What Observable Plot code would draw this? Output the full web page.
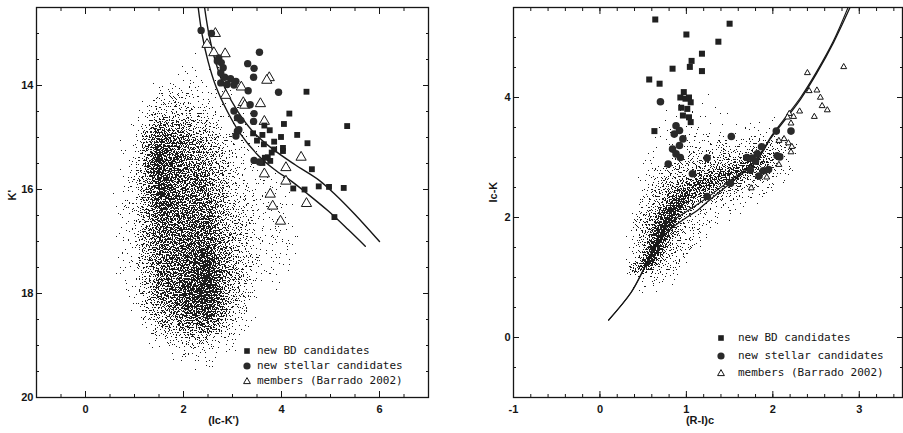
<!DOCTYPE html>
<html><head><meta charset="utf-8">
<script src="https://cdn.jsdelivr.net/npm/d3@7"></script>
<script src="https://cdn.jsdelivr.net/npm/@observablehq/plot@0.6"></script>
<style>
html,body{margin:0;padding:0;background:#fff}
body{width:903px;height:433px;overflow:hidden;position:relative;font-family:"Liberation Sans",Arial,sans-serif}
#left{position:absolute;left:0;top:0}
#right{position:absolute;left:450px;top:0}
.lg{position:absolute;font-family:"DejaVu Sans Mono",monospace;font-size:11px;color:#151515;white-space:nowrap;line-height:14px;height:14px}
.lg svg{position:absolute;left:0;top:2px}
</style></head><body>
<svg width="0" height="0" style="position:absolute">
  <defs>
    <filter id="stipple" x="0" y="0" width="1" height="1" color-interpolation-filters="sRGB">
      <feTurbulence type="fractalNoise" baseFrequency="0.7" numOctaves="2" seed="7" result="t"/>
      <feColorMatrix in="t" type="matrix" values="0 0 0 0 0  0 0 0 0 0  0 0 0 0 0  1 0 0 0 0" result="n"/>
      <feComponentTransfer in="SourceAlpha" result="a2"><feFuncA type="table" tableValues="0 0.226 0.270 0.298 0.321 0.339 0.355 0.369 0.382 0.394 0.406 0.416 0.427 0.436 0.446 0.455 0.465 0.474 0.482 0.491 0.5 0.509 0.518 0.526 0.535 0.545 0.554 0.564 0.573 0.584 0.594 0.606 0.618 0.631 0.645 0.661 0.679 0.702 0.730 0.774 1"/></feComponentTransfer>
      <feComposite in="a2" in2="n" operator="arithmetic" k1="0" k2="1" k3="-1" k4="0.49" result="d"/>
      <feComponentTransfer in="d" result="m"><feFuncA type="discrete" tableValues="0 1"/></feComponentTransfer>
      <feFlood flood-color="#1c1c1c" result="f"/>
      <feComposite in="f" in2="m" operator="in"/>
    </filter>
  </defs>
</svg>
<div id="left"></div><div id="right"></div>
<script>
// ---------- Left panel: K' vs (Ic-K') ----------
const leftBD = [[4.51,14.12],[5.34,14.78],[4.16,14.54],[4.05,14.74],[4.32,14.95],[3.99,14.99],[4.53,15.11],[4.03,15.20],[4.03,15.26],[4.62,15.61],[4.24,15.98],[4.47,16.00],[4.76,15.94],[4.97,15.95],[5.27,15.97],[5.08,16.53],[3.42,14.92],[3.61,14.95],[3.76,14.86],[3.65,14.77],[3.50,15.06],[3.64,15.13],[3.85,15.08],[3.80,15.29],[3.72,15.38],[3.85,15.23],[3.77,15.45],[3.66,15.39],[3.61,15.49]];
const leftStellar = [[2.36,12.94],[2.57,13.00],[3.55,13.36],[3.31,13.58],[3.44,13.67],[3.43,13.84],[3.32,14.10],[3.94,14.13],[3.36,14.37],[3.03,14.49],[3.10,14.62],[3.17,14.67],[3.44,14.54],[3.43,14.69],[3.10,14.88],[3.07,14.97],[3.13,14.85],[3.44,15.44],[3.55,15.47],[2.72,13.47],[2.77,13.56],[2.81,13.66],[2.76,13.76],[2.84,13.84],[2.96,13.87],[3.07,13.92],[2.76,13.95],[2.89,13.98],[3.03,13.99],[2.69,13.53]];
const leftMembers = [[2.65,13.00],[2.48,13.21],[2.62,13.37],[2.85,13.39],[3.75,13.85],[3.70,13.90],[3.18,14.03],[2.86,14.19],[3.22,14.33],[3.25,14.38],[3.57,14.35],[3.65,14.69],[4.40,15.38],[4.09,15.58],[3.65,15.70],[4.09,15.84],[3.77,16.09],[3.82,16.32],[4.51,16.27],[3.98,16.61]];
const leftIsoInner = [[2.30,12.50],[2.38,13.02],[2.50,13.53],[2.67,14.04],[2.89,14.49],[3.17,14.94],[3.51,15.33],[3.85,15.61],[4.20,15.84],[4.54,16.09],[4.95,16.41],[5.36,16.77],[5.71,17.09]];
const leftIsoOuter = [[2.43,12.50],[2.52,13.02],[2.65,13.53],[2.84,14.04],[3.10,14.49],[3.41,14.88],[3.79,15.20],[4.27,15.52],[4.75,15.81],[5.09,16.09],[5.50,16.48],[6.00,17.00]];
// field-star cloud: estimated relative density (dot coverage) on a coarse grid
const leftCloudCols = [0.0,0.5,1.0,1.5,2.0,2.5,3.0,3.5,4.0,4.5,5.0];
const leftCloudRows = [13.0,13.5,14.0,14.5,15.0,15.5,16.0,16.5,17.0,17.5,18.0,18.5,19.0,19.5,20.0];
const leftCloudDensity = [
  [0,0,0,0,0,0,0,0,0,0,0],
  [0,0,0,0,0.02,0.03,0.01,0,0,0,0],
  [0,0,0,0.04,0.07,0.07,0.03,0,0,0,0],
  [0,0,0.02,0.25,0.2,0.15,0.05,0.02,0,0,0],
  [0,0,0.07,0.7,0.5,0.3,0.1,0.03,0.02,0,0],
  [0,0,0.1,0.8,0.6,0.45,0.15,0.06,0.04,0,0],
  [0,0.01,0.14,0.72,0.6,0.55,0.2,0.08,0.05,0.02,0],
  [0,0.01,0.14,0.65,0.6,0.6,0.25,0.1,0.07,0.02,0],
  [0,0.01,0.12,0.6,0.6,0.68,0.3,0.1,0.07,0.02,0],
  [0,0.01,0.1,0.55,0.62,0.8,0.38,0.08,0.04,0.01,0],
  [0,0,0.05,0.5,0.68,0.85,0.32,0.05,0.02,0,0],
  [0,0,0.02,0.32,0.55,0.68,0.2,0.02,0,0,0],
  [0,0,0,0.05,0.15,0.15,0.05,0,0,0,0],
  [0,0,0,0,0.02,0.02,0,0,0,0,0],
  [0,0,0,0,0,0,0,0,0,0,0]
];
const leftXMajor = [0,2,4,6];
const leftYMajor = [14,16,18,20];

// ---------- Right panel: Ic-K vs (R-I)c ----------
const rightBD = [[0.64,5.30],[1.50,5.23],[1.00,5.05],[1.37,4.93],[1.18,4.73],[1.06,4.61],[1.04,4.51],[0.84,4.48],[1.18,4.44],[0.57,4.30],[0.69,4.23],[0.63,3.44],[0.97,4.09],[0.93,4.00],[1.03,4.00],[1.05,3.92],[0.94,3.83],[1.01,3.81],[0.96,3.70],[1.03,3.67],[1.05,3.59],[0.99,3.98]];
const rightStellar = [[0.70,3.93],[0.79,2.89],[1.52,3.35],[1.24,2.99],[1.24,2.35],[1.51,2.57],[2.04,3.44],[2.21,3.44],[1.87,3.18],[1.76,2.99],[1.80,2.94],[2.05,3.03],[2.08,3.01],[1.74,2.79],[1.89,2.78],[1.95,2.80],[1.84,2.69],[1.07,2.73],[1.70,3.00],[1.82,3.06],[0.88,3.53],[0.92,3.45],[0.86,3.39],[0.96,3.31],[0.92,3.20],[0.84,3.14],[0.88,3.06],[0.93,3.00]];
const rightMembers = [[2.82,4.51],[2.40,4.41],[2.42,4.11],[2.51,4.12],[2.55,4.00],[2.57,3.86],[2.63,3.79],[2.48,3.68],[2.31,3.77],[2.19,3.73],[2.24,3.68],[2.17,3.67],[2.21,3.57],[2.13,3.31],[2.07,3.28],[2.18,3.24],[2.22,3.18],[2.21,3.09],[2.07,2.88],[1.93,2.67],[1.75,2.49]];
const rightIsoA = [[0.10,0.29],[0.36,0.75],[0.50,1.12],[0.59,1.37],[0.71,1.65],[0.82,1.81],[0.98,1.98],[1.13,2.12],[1.24,2.26],[1.36,2.40],[1.51,2.57],[1.67,2.76],[1.78,2.89],[1.88,3.09],[1.97,3.31],[2.12,3.59],[2.32,3.97],[2.51,4.41],[2.70,4.91],[2.89,5.49]];
const rightIsoB = [[0.10,0.29],[0.36,0.75],[0.50,1.12],[0.59,1.40],[0.70,1.72],[0.82,1.92],[0.98,2.08],[1.13,2.22],[1.24,2.33],[1.36,2.46],[1.51,2.62],[1.67,2.79],[1.78,2.92],[1.88,3.11],[1.97,3.33],[2.12,3.62],[2.32,4.00],[2.51,4.44],[2.70,4.94],[2.87,5.50]];
// field-star cloud: estimated relative density (dot coverage) at sample points [x, y, density]
const rightCloud = [
  [0.57,1.25,0.9],[0.63,1.45,0.95],[0.70,1.68,0.95],[0.78,1.92,0.92],[0.87,2.15,0.88],[0.97,2.33,0.8],
  [1.10,2.48,0.7],[1.25,2.58,0.65],[1.40,2.66,0.62],[1.55,2.74,0.62],[1.70,2.84,0.6],[1.85,2.95,0.55],[2.00,3.05,0.3],
  [0.47,1.45,0.22],[0.53,1.75,0.3],[0.60,2.05,0.3],[0.70,2.35,0.28],[0.85,2.60,0.28],[1.00,2.78,0.28],[1.20,2.90,0.25],[1.40,2.98,0.25],[1.60,3.05,0.22],[1.80,3.20,0.18],[1.95,3.35,0.1],
  [0.62,1.05,0.15],[0.75,1.35,0.25],[0.85,1.65,0.25],[0.97,1.95,0.22],[1.10,2.15,0.2],[1.25,2.25,0.15],[1.45,2.35,0.15],[1.65,2.45,0.15],[1.85,2.60,0.15],[2.05,2.80,0.12],
  [0.80,3.10,0.08],[1.00,3.40,0.07],[1.25,3.35,0.07],[1.50,3.40,0.05],[1.00,3.90,0.03],[1.30,3.90,0.03],[1.70,3.60,0.03],
  [0.25,1.00,0],[0.40,0.55,0],[0.85,0.75,0],[1.25,1.55,0],[1.65,1.95,0],[2.05,2.25,0],[2.35,2.65,0],[2.35,3.30,0],[2.05,3.85,0],[1.60,4.35,0],[1.10,4.60,0],[0.65,4.10,0],[0.45,3.00,0],[0.30,2.00,0]
];
const rightXMajor = [-1,0,1,2,3];
const rightYMajor = [0,2,4];

const legendLabels = ["new BD candidates","new stellar candidates","members (Barrado 2002)"];

// ---------- helpers ----------
const INK = "#161616";
const gridToPoints = (cols, rows, m) => rows.flatMap((yy, i) => cols.map((xx, j) => [xx, yy, m[i][j]]));
const minor = (a, b, s) => d3.range(Math.round((b - a) / s) + 1).map(i => +(a + i * s).toFixed(3));
function frameTicks(xMaj, xMin, yMaj, yMin) {
  const blank = () => "";
  return [
    Plot.axisX(xMin, {anchor: "bottom", tickSize: -3, tickFormat: blank, label: null, stroke: INK}),
    Plot.axisX(xMin, {anchor: "top", tickSize: -3, tickFormat: blank, label: null, stroke: INK}),
    Plot.axisX(xMaj, {anchor: "top", tickSize: -6, tickFormat: blank, label: null, stroke: INK}),
    Plot.axisY(yMin, {anchor: "left", tickSize: -3, tickFormat: blank, label: null, stroke: INK}),
    Plot.axisY(yMin, {anchor: "right", tickSize: -3, tickFormat: blank, label: null, stroke: INK}),
    Plot.axisY(yMaj, {anchor: "right", tickSize: -6, tickFormat: blank, label: null, stroke: INK}),
    Plot.axisX(xMaj, {anchor: "bottom", tickSize: -6, tickPadding: 14, tickFormat: d => String(d), label: null, stroke: INK, fill: INK, fontSize: 11, fontWeight: "bold"}),
    Plot.axisY(yMaj, {anchor: "left", tickSize: -6, tickPadding: 9, tickFormat: d => String(d), label: null, stroke: INK, fill: INK, fontSize: 11, fontWeight: "bold"})
  ];
}
const style = {background: "transparent", fontFamily: "'Liberation Sans', Arial, sans-serif", fontSize: "11px", color: INK};

// ---------- left plot ----------
const left = Plot.plot({
  width: 450, height: 433,
  marginLeft: 36, marginRight: 22, marginTop: 7, marginBottom: 36,
  style,
  x: {domain: [-1, 7], label: null},
  y: {domain: [20, 12.5], label: null},
  opacity: {domain: [0, 1], range: [0, 1]},
  marks: [
    Plot.raster(gridToPoints(leftCloudCols, leftCloudRows, leftCloudDensity), {x: d => d[0], y: d => d[1], fillOpacity: d => d[2], fill: "#000", interpolate: "barycentric"}),
    Plot.line(leftIsoInner, {x: d => d[0], y: d => d[1], stroke: INK, strokeWidth: 1.4, curve: "catmull-rom", clip: true}),
    Plot.line(leftIsoOuter, {x: d => d[0], y: d => d[1], stroke: INK, strokeWidth: 1.4, curve: "catmull-rom", clip: true}),
    Plot.dot(leftMembers, {x: d => d[0], y: d => d[1], symbol: "triangle", r: 3.8, fill: "white", stroke: INK, strokeWidth: 1}),
    Plot.dot(leftBD, {x: d => d[0], y: d => d[1], symbol: "square", r: 3.3, fill: "#202020"}),
    Plot.dot(leftStellar, {x: d => d[0], y: d => d[1], symbol: "circle", r: 3.7, fill: "#2a2a2a"}),
    ...frameTicks(leftXMajor, minor(-1, 7, 0.5), leftYMajor, minor(12.5, 20, 0.5)),
    Plot.frame({stroke: INK, strokeWidth: 1.3}),
    Plot.text(["(Ic-K')"], {text: d => d, frameAnchor: "bottom", dy: 26, dx: -9, fontWeight: "bold", fontSize: 11, fill: INK}),
    Plot.text(["K'"], {text: d => d, frameAnchor: "left", dx: -24, dy: -2, rotate: -90, fontWeight: "bold", fontSize: 11, fill: INK})
  ]
});
document.getElementById("left").append(left);

// ---------- right plot ----------
const right = Plot.plot({
  width: 453, height: 433,
  marginLeft: 63, marginRight: 1, marginTop: 7, marginBottom: 36,
  style,
  x: {domain: [-1, 3.5], label: null},
  y: {domain: [-1, 5.5], label: null},
  opacity: {domain: [0, 1], range: [0, 1]},
  marks: [
    Plot.raster(rightCloud, {x: d => d[0], y: d => d[1], fillOpacity: d => d[2], fill: "#000", interpolate: "barycentric"}),
    Plot.line(rightIsoA, {x: d => d[0], y: d => d[1], stroke: INK, strokeWidth: 1.3, curve: "catmull-rom", clip: true}),
    Plot.line(rightIsoB, {x: d => d[0], y: d => d[1], stroke: INK, strokeWidth: 1.1, curve: "catmull-rom", clip: true}),
    Plot.dot(rightMembers, {x: d => d[0], y: d => d[1], symbol: "triangle", r: 2.2, fill: "white", stroke: INK, strokeWidth: 1}),
    Plot.dot(rightBD, {x: d => d[0], y: d => d[1], symbol: "square", r: 3.4, fill: "#202020"}),
    Plot.dot(rightStellar, {x: d => d[0], y: d => d[1], symbol: "circle", r: 3.8, fill: "#2a2a2a"}),
    ...frameTicks(rightXMajor, minor(-1, 3.5, 0.2), rightYMajor, minor(-1, 5.5, 0.5)),
    Plot.frame({stroke: INK, strokeWidth: 1.3}),
    Plot.text(["(R-I)c"], {text: d => d, frameAnchor: "bottom", dy: 26, dx: -8, fontWeight: "bold", fontSize: 11, fill: INK}),
    Plot.text(["Ic-K"], {text: d => d, frameAnchor: "left", dx: -20, rotate: -90, fontWeight: "bold", fontSize: 11, fill: INK})
  ]
});
document.getElementById("right").append(right);

// stipple texture for the density rasters (field stars drawn as fine dots)
document.querySelectorAll("#left svg image, #right svg image").forEach(img => img.setAttribute("filter", "url(#stipple)"));

// ---------- legends (HTML overlay) ----------
const shapes = [
  '<rect x="2.2" y="2.2" width="5.6" height="5.6" fill="#202020"/>',
  '<circle cx="5" cy="5" r="3.6" fill="#2a2a2a"/>',
  '<path d="M5,1.6 L8.4,7.6 L1.6,7.6 Z" fill="white" stroke="#161616" stroke-width="1"/>'
];
function legend(markerX, textX, rowsY) {
  legendLabels.forEach((lab, i) => {
    const d = document.createElement("div");
    d.className = "lg";
    d.style.left = (markerX - 5) + "px";
    d.style.top = (rowsY[i] - 7) + "px";
    d.innerHTML = `<svg width="10" height="10" viewBox="0 0 10 10">${shapes[i]}</svg><span style="position:absolute;left:${textX - markerX + 5}px;top:0">${lab}</span>`;
    document.body.append(d);
  });
}
legend(246.5, 257, [351, 366, 381]);
legend(720.7, 738, [337.7, 356, 373.3]);
</script>
</body></html>
